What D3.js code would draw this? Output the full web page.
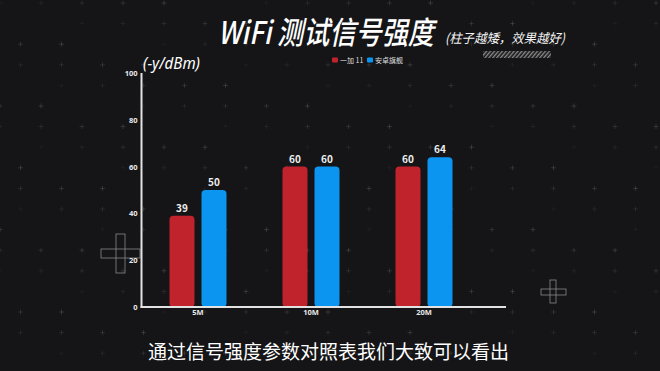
<!DOCTYPE html>
<html>
<head>
<meta charset="utf-8">
<script src="https://cdn.jsdelivr.net/npm/d3@7"></script>
<style>
  html, body { margin: 0; padding: 0; background: #151517; }
  #chart { width: 660px; height: 371px; }
  text { font-family: "Noto Sans CJK SC", "Noto Sans", sans-serif; }
</style>
</head>
<body>
<div id="chart"></div>
<script>
// WiFi signal strength, grouped bars
const categories = ["5M", "10M", "20M"];
const seriesNames = ["一加 11", "安卓旗舰"];
const oneplusValues = [39, 60, 60];
const androidValues = [50, 60, 64];
const yTicks = [0, 20, 40, 60, 80, 100];
const seriesColors = ["#c1232d", "#0b95f1"];

function renderChart() {
    d3.select("#chart").selectAll("*").remove();

    const width = 660, height = 371;
    const margin = { top: 73, left: 141.5 };
    const innerWidth = 339;
    const innerHeight = 234;

    const svg = d3.select("#chart")
        .append("svg")
        .attr("width", width)
        .attr("height", height);

    svg.append("rect")
        .attr("width", width)
        .attr("height", height)
        .attr("fill", "#151517");

    // Background plus grid (decoration)
    const deco = svg.append("g");
    for (let i = 0; i < 33; i++) {
        for (let j = 0; j < 18; j++) {
            const k = (i * 7 + j * 11) % 13;
            if (k > 4) continue;
            const cx = 20.5 * i, cy = 3 + 20.6 * j;
            const op = 0.08 + 0.05 * k;
            deco.append("path")
                .attr("d", `M${cx - 2.5},${cy}H${cx + 2.5}M${cx},${cy - 2.5}V${cy + 2.5}`)
                .attr("stroke", "#aaa")
                .attr("stroke-opacity", op)
                .attr("stroke-width", 0.7);
        }
    }

    // Outline crosses
    const crosses = [
        { v: [116, 234, 9, 39], h: [101, 249, 39, 9] },
        { v: [550, 280, 6, 23], h: [541, 289, 25, 6] }
    ];
    crosses.forEach(c => {
        [c.v, c.h].forEach(r => {
            deco.append("rect")
                .attr("x", r[0]).attr("y", r[1])
                .attr("width", r[2]).attr("height", r[3])
                .attr("fill", "none")
                .attr("stroke", "#888")
                .attr("stroke-width", 0.8);
        });
    });

    // Hatched strip
    const defs = svg.append("defs");
    const pat = defs.append("pattern")
        .attr("id", "hatch")
        .attr("width", 3)
        .attr("height", 3)
        .attr("patternUnits", "userSpaceOnUse")
        .attr("patternTransform", "rotate(40)");
    pat.append("rect").attr("width", 1.4).attr("height", 3).attr("fill", "#8a8a8a");
    svg.append("rect")
        .attr("x", 483).attr("y", 51)
        .attr("width", 68).attr("height", 7)
        .attr("fill", "url(#hatch)");

    // Scales
    const x0 = d3.scaleBand()
        .domain(categories)
        .range([margin.left, margin.left + innerWidth]);

    const x1 = d3.scaleBand()
        .domain(seriesNames)
        .range([28, 85])
        .paddingInner(0.21875);

    const y = d3.scaleLinear()
        .domain([0, 100])
        .range([margin.top + innerHeight, margin.top]);

    const data = categories.map((c, i) => ({
        cat: c,
        values: [
            { name: seriesNames[0], value: oneplusValues[i], color: seriesColors[0] },
            { name: seriesNames[1], value: androidValues[i], color: seriesColors[1] }
        ]
    }));

    // Bars
    const groups = svg.selectAll(".grp")
        .data(data)
        .enter()
        .append("g")
        .attr("transform", d => `translate(${x0(d.cat)},0)`);

    groups.selectAll("rect")
        .data(d => d.values)
        .enter()
        .append("rect")
        .attr("x", d => x1(d.name))
        .attr("y", d => y(d.value))
        .attr("width", x1.bandwidth())
        .attr("height", d => y(0) - y(d.value))
        .attr("rx", 4)
        .attr("fill", d => d.color);

    groups.selectAll(".val")
        .data(d => d.values)
        .enter()
        .append("text")
        .attr("x", d => x1(d.name) + x1.bandwidth() / 2)
        .attr("y", d => y(d.value) - 4)
        .attr("text-anchor", "middle")
        .attr("fill", "#eee")
        .attr("font-size", "10px")
        .attr("font-weight", "bold")
        .text(d => d.value);

    // Y axis
    const yAxis = svg.append("g")
        .attr("transform", `translate(${margin.left},0)`)
        .call(d3.axisLeft(y).tickValues(yTicks).tickSize(0).tickPadding(4));
    yAxis.select(".domain").remove();
    yAxis.selectAll("text")
        .attr("fill", "#e8e8e8")
        .attr("font-size", "7.5px")
        .attr("font-weight", "bold")
        .style("font-family", "'Noto Sans', sans-serif");

    // X axis
    const xAxis = svg.append("g")
        .attr("transform", `translate(0,${margin.top + innerHeight})`)
        .call(d3.axisBottom(x0).tickSize(0).tickPadding(3));
    xAxis.select(".domain").remove();
    xAxis.selectAll("text")
        .attr("fill", "#e8e8e8")
        .attr("font-size", "7.5px")
        .attr("font-weight", "bold")
        .style("font-family", "'Noto Sans', sans-serif");

    // Axis lines
    svg.append("line")
        .attr("x1", margin.left).attr("x2", margin.left)
        .attr("y1", margin.top).attr("y2", y(0) + 1)
        .attr("stroke", "#e2e2e2").attr("stroke-width", 2);
    svg.append("line")
        .attr("x1", margin.left - 1).attr("x2", 506)
        .attr("y1", y(0)).attr("y2", y(0))
        .attr("stroke", "#e2e2e2").attr("stroke-width", 2);

    // Title
    svg.append("text")
        .attr("transform", "translate(218,44) scale(1,1.12)")
        .attr("font-size", "28px")
        .attr("font-weight", 500)
        .attr("font-style", "italic")
        .attr("fill", "#fff")
        .attr("textLength", 216)
        .attr("lengthAdjust", "spacingAndGlyphs")
        .text("WiFi 测试信号强度");

    svg.append("text")
        .attr("x", 445)
        .attr("y", 43)
        .attr("font-size", "13px")
        .attr("font-style", "italic")
        .attr("fill", "#f2f2f2")
        .attr("textLength", 120)
        .attr("lengthAdjust", "spacingAndGlyphs")
        .text("(柱子越矮，效果越好)");

    // Unit label
    svg.append("text")
        .attr("x", 143)
        .attr("y", 69)
        .attr("font-size", "17px")
        .attr("font-style", "italic")
        .attr("fill", "#fff")
        .attr("textLength", 57)
        .attr("lengthAdjust", "spacingAndGlyphs")
        .style("font-family", "'Noto Sans', sans-serif")
        .text("(-y/dBm)");

    // Legend
    const legend = svg.append("g").attr("transform", "translate(332,57)");
    const legendX = [0, 35];
    seriesNames.forEach((name, i) => {
        legend.append("rect")
            .attr("x", legendX[i]).attr("y", 0.5)
            .attr("width", 6).attr("height", 5)
            .attr("rx", 1)
            .attr("fill", seriesColors[i]);
        legend.append("text")
            .attr("x", legendX[i] + 8).attr("y", 5.5)
            .attr("font-size", "7px")
            .attr("fill", "#ddd")
            .text(name);
    });

    // Caption
    svg.append("text")
        .attr("x", 328.5)
        .attr("y", 359)
        .attr("text-anchor", "middle")
        .attr("font-size", "19px")
        .attr("fill", "#fff")
        .text("通过信号强度参数对照表我们大致可以看出");
}

renderChart();
</script>
</body>
</html>
